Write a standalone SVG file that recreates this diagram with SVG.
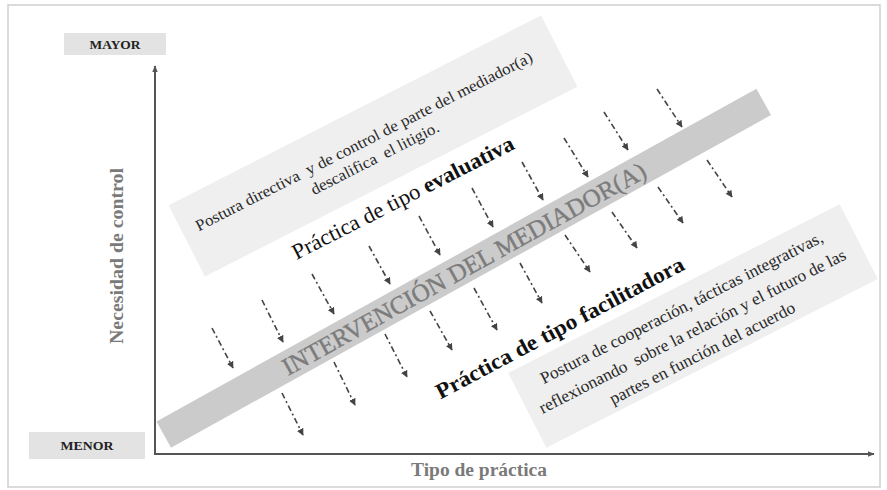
<svg xmlns="http://www.w3.org/2000/svg" width="887" height="490" viewBox="0 0 887 490">
<style>
.frame{fill:#ffffff;stroke:#d0d0d0;stroke-width:1.5}
.lbl{fill:#e3e3e3}
.lbltxt{font-family:"Liberation Serif",serif;font-weight:bold;font-size:13px;fill:#222;text-anchor:middle}
.axis{stroke:#555;stroke-width:2;fill:none}
.axtxt{font-family:"Liberation Serif",serif;font-weight:bold;font-size:18px;fill:#7a7a7a;text-anchor:middle}
.box{fill:#efefef}
.band{fill:#cbcbcb}
.small{font-family:"Liberation Serif",serif;font-size:16px;fill:#2a2a2a;text-anchor:middle}
.small2{font-family:"Liberation Serif",serif;font-size:17px;fill:#2a2a2a;text-anchor:middle}
.title{font-family:"Liberation Serif",serif;font-size:22px;fill:#111;text-anchor:middle}
.bandtxt{font-family:"Liberation Serif",serif;font-size:25px;fill:#7c7c7c;stroke:#7c7c7c;stroke-width:0.4;text-anchor:middle}
.dash{stroke:#444;stroke-width:1.6;fill:none;stroke-dasharray:6 3 2 3}
</style>
<defs>
<marker id="ah" viewBox="0 0 10 10" refX="9" refY="5" markerWidth="7" markerHeight="7" markerUnits="userSpaceOnUse" orient="auto">
<path d="M0,0 L10,5 L0,10 z" fill="#444"/>
</marker>
<marker id="axh" viewBox="0 0 10 10" refX="9" refY="5" markerWidth="7" markerHeight="7" markerUnits="userSpaceOnUse" orient="auto">
<path d="M0,1 L10,5 L0,9 z" fill="#555"/>
</marker>
</defs>
<rect class="frame" x="8" y="5" width="872" height="482"/>

<g id="mayor">
<rect class="lbl" x="64" y="33" width="102" height="22"/>
<text class="lbltxt" x="115" y="49" textLength="51" lengthAdjust="spacingAndGlyphs">MAYOR</text>
</g>
<g id="menor">
<rect class="lbl" x="29" y="432" width="116" height="27"/>
<text class="lbltxt" x="87" y="450" textLength="53" lengthAdjust="spacingAndGlyphs">MENOR</text>
</g>

<g id="axes">
<line class="axis" x1="155" y1="454" x2="155" y2="66" marker-end="url(#axh)"/>
<line class="axis" x1="154" y1="454" x2="874" y2="454" marker-end="url(#axh)"/>
<text class="axtxt" transform="translate(123,256) rotate(-90)" textLength="176" lengthAdjust="spacingAndGlyphs">Necesidad de control</text>
<text class="axtxt" x="479" y="476" textLength="136" lengthAdjust="spacingAndGlyphs">Tipo de práctica</text>
</g>

<g id="evaluativa-box" transform="translate(373,146) rotate(-27)">
<rect class="box" x="-209" y="-40" width="418" height="80"/>
<text class="small" x="-6" y="-3" xml:space="preserve" textLength="376" lengthAdjust="spacingAndGlyphs">Postura directiva  y de control de parte del mediador(a)</text>
<text class="small" x="-4" y="17" xml:space="preserve" textLength="142" lengthAdjust="spacingAndGlyphs">descalifica  el litigio.</text>
</g>

<g id="evaluativa-title" transform="translate(403,198) rotate(-27)">
<text class="title" x="0" y="7" textLength="246" lengthAdjust="spacingAndGlyphs">Práctica de tipo <tspan font-weight="bold">evaluativa</tspan></text>
</g>

<g id="connectors">
<line class="dash" x1="212" y1="328" x2="233" y2="368" marker-end="url(#ah)"/>
<line class="dash" x1="262" y1="300" x2="283" y2="342" marker-end="url(#ah)"/>
<line class="dash" x1="312" y1="274" x2="334" y2="314" marker-end="url(#ah)"/>
<line class="dash" x1="369" y1="246" x2="390" y2="284" marker-end="url(#ah)"/>
<line class="dash" x1="419" y1="216" x2="440" y2="255" marker-end="url(#ah)"/>
<line class="dash" x1="472" y1="188" x2="493" y2="227" marker-end="url(#ah)"/>
<line class="dash" x1="522" y1="162" x2="543" y2="200" marker-end="url(#ah)"/>
<line class="dash" x1="564" y1="138" x2="588" y2="177" marker-end="url(#ah)"/>
<line class="dash" x1="604" y1="112" x2="628" y2="150" marker-end="url(#ah)"/>
<line class="dash" x1="657" y1="89" x2="682" y2="127" marker-end="url(#ah)"/>

<line class="dash" x1="282" y1="393" x2="303" y2="435" marker-end="url(#ah)"/>
<line class="dash" x1="334" y1="362" x2="355" y2="405" marker-end="url(#ah)"/>
<line class="dash" x1="385" y1="334" x2="407" y2="377" marker-end="url(#ah)"/>
<line class="dash" x1="430" y1="311" x2="452" y2="350" marker-end="url(#ah)"/>
<line class="dash" x1="474" y1="288" x2="497" y2="330" marker-end="url(#ah)"/>
<line class="dash" x1="520" y1="263" x2="542" y2="303" marker-end="url(#ah)"/>
<line class="dash" x1="565" y1="235" x2="590" y2="272" marker-end="url(#ah)"/>
<line class="dash" x1="612" y1="212" x2="637" y2="248" marker-end="url(#ah)"/>
<line class="dash" x1="658" y1="187" x2="683" y2="223" marker-end="url(#ah)"/>
<line class="dash" x1="707" y1="160" x2="732" y2="197" marker-end="url(#ah)"/>
</g>

<g id="intervencion" transform="translate(463.75,268.25) rotate(-29)">
<rect class="band" x="-343" y="-15" width="686" height="30"/>
<text class="bandtxt" x="0" y="9" textLength="412" lengthAdjust="spacingAndGlyphs">INTERVENCIÓN DEL MEDIADOR(A)</text>
</g>

<g id="facilitadora-title" transform="translate(560,328) rotate(-28)">
<text class="title" x="0" y="7" font-weight="bold" textLength="278" lengthAdjust="spacingAndGlyphs">Práctica de tipo facilitadora</text>
</g>

<g id="facilitadora-box" transform="translate(693,326) rotate(-27)">
<rect class="box" x="-186" y="-42" width="372" height="84"/>
<text class="small2" x="-2" y="-16" textLength="315" lengthAdjust="spacingAndGlyphs">Postura de cooperación, tácticas integrativas,</text>
<text class="small2" x="-3" y="10" xml:space="preserve" textLength="342" lengthAdjust="spacingAndGlyphs">reflexionando  sobre la relación y el futuro de las</text>
<text class="small2" x="-4" y="34" textLength="206" lengthAdjust="spacingAndGlyphs">partes en función del acuerdo</text>
</g>
</svg>
